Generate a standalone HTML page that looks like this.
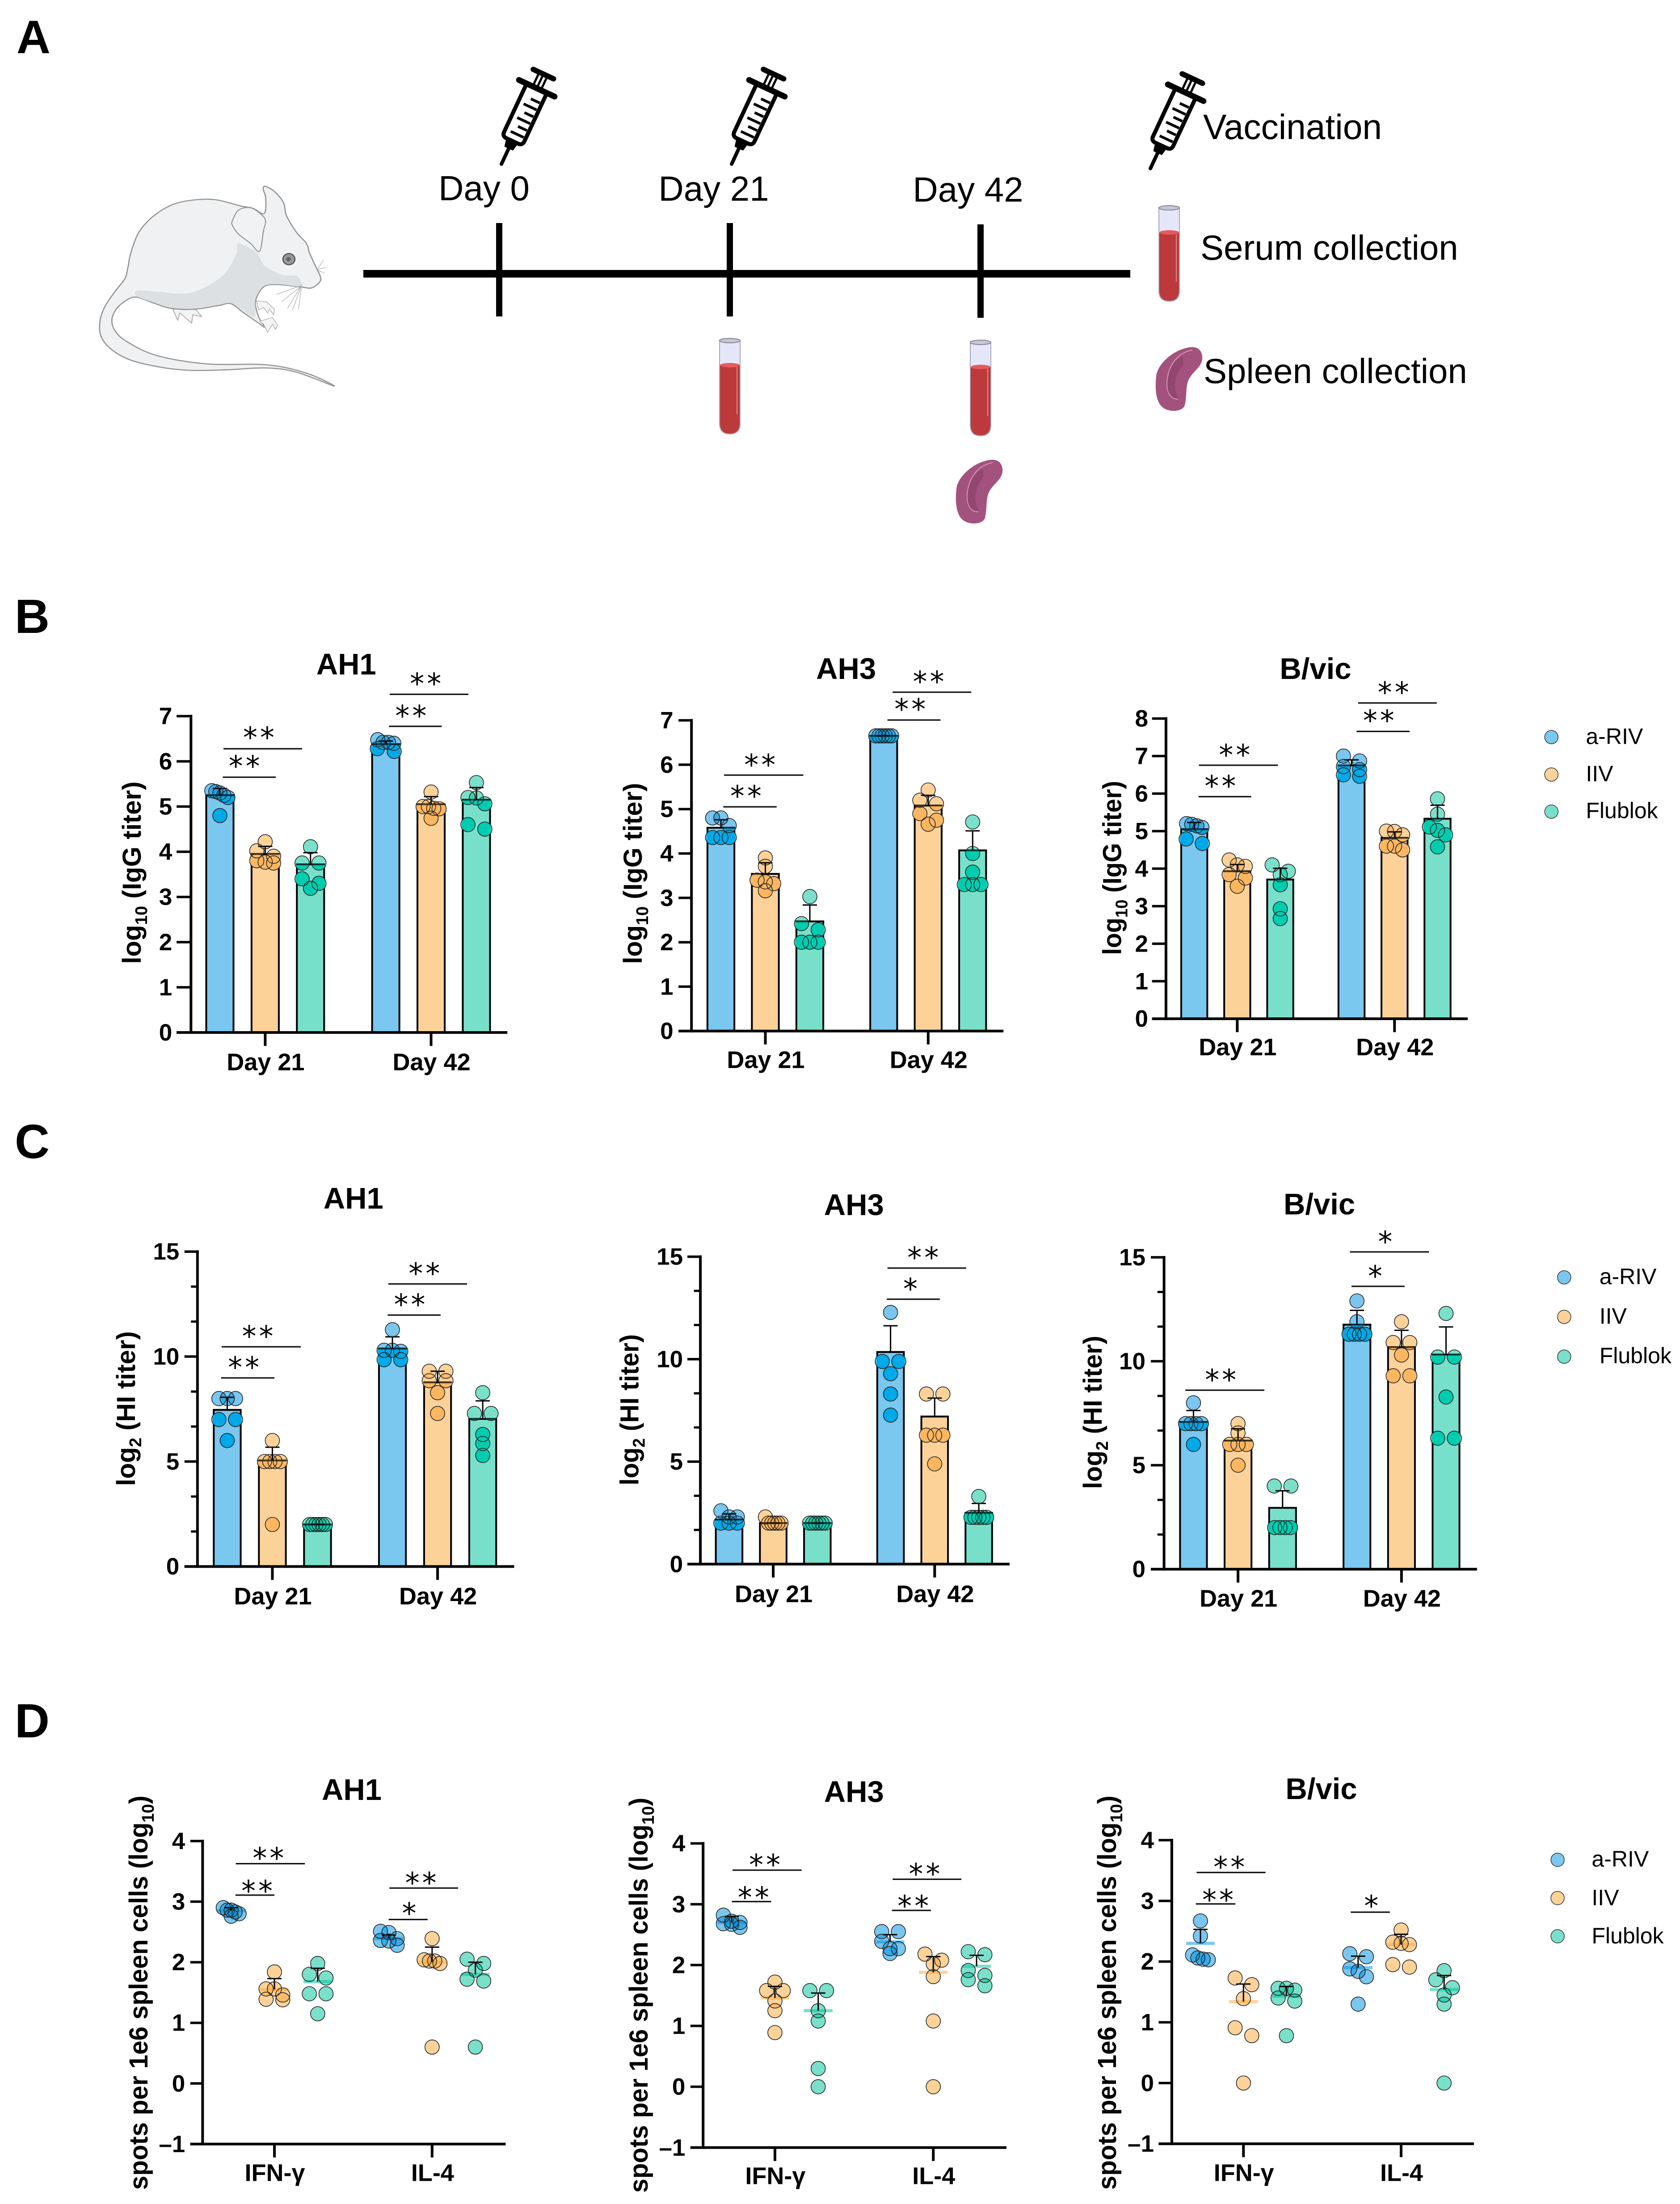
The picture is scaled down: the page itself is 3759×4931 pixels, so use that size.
<!DOCTYPE html>
<html lang="en">
<head>
<meta charset="utf-8">
<title>Vaccination study figure</title>
<style>
html,body{margin:0;padding:0;background:#fff}
svg{display:block}
text{font-family:"Liberation Sans",Arial,sans-serif;fill:#000}
</style>
</head>
<body>
<svg id="figure" xmlns="http://www.w3.org/2000/svg" width="3759" height="4931" viewBox="0 0 3759 4931">
<rect x="0" y="0" width="3759" height="4931" fill="#fff"/>
<defs>
<g id="syringe" fill="none" stroke="#000" stroke-linecap="round" stroke-linejoin="round">
<path d="M-25,-187 V-68 Q-25,-57 -14,-57 H14 Q25,-57 25,-68 V-187" stroke-width="9"/>
<path d="M-12,-55 L-9,-40 H9 L12,-55 Z" fill="#000" stroke-width="4"/>
<path d="M0,-40 V0" stroke-width="8"/>
<path d="M-44,-187 H44" stroke-width="13"/>
<path d="M-25,-222 H25" stroke-width="12"/>
<path d="M-10,-187 V-222 M0,-190 V-222 M10,-187 V-222" stroke-width="5"/>
<path d="M-12,-75 H20 M-2,-92 H20 M-12,-109 H20 M-2,-126 H20 M-12,-143 H20 M-2,-160 H20" stroke-width="6" stroke-linecap="butt"/>
</g>
<g id="tube">
<path d="M-23,4 V190 Q-23,214 0,214 Q23,214 23,190 V4 Z" fill="#e6e6fb" stroke="#a8a8b8" stroke-width="2"/>
<path d="M-22,60 V190 Q-22,213 0,213 Q22,213 22,190 V60 Z" fill="#bc3a3c"/>
<ellipse cx="0" cy="60" rx="22" ry="5" fill="#e85a5c"/>
<ellipse cx="0" cy="5" rx="23" ry="5" fill="#c5c5de" stroke="#888" stroke-width="2"/>
<path d="M16,64 V170" stroke="#e08a8a" stroke-width="2"/>
</g>
<g id="spleen">
<path d="M77.6,1.7 C92.9,0 105.6,8.6 104,28.7 C102,46 85,54.5 75,71.8 C66.3,86 70,112 64.8,132 C59.7,146.4 29,149 13.8,135 C-1.5,120.5 -1.5,89 1,66 C5,37 42,5.7 77.6,1.7Z" fill="#a3527e"/>
<path d="M60,22 C35,35 22,65 24,95 C25,110 40,122 52,118 C40,100 38,68 62,40 Z" fill="#93466f"/>
<path d="M82,8 C50,14 28,40 25,80 C24,100 30,118 50,118" fill="none" stroke="#cf9ab4" stroke-width="2"/>
</g>
</defs>

<text x="37" y="119" font-size="105" font-weight="700">A</text>
<text x="33" y="1416" font-size="108" font-weight="700">B</text>
<text x="33" y="2591" font-size="108" font-weight="700">C</text>
<text x="33" y="3887" font-size="108" font-weight="700">D</text>

<g transform="translate(150,300) scale(0.4464,0.4146)">
<path d="M530,945 L555,1005 L565,965 L625,1020 L630,975 L675,985 L640,940 Z" fill="#f4f4f4" stroke="#a5a5a5" stroke-width="4" stroke-linejoin="round"/>
<path class="smooth" fill="#f0f1f2" stroke="#949494" stroke-width="6" data-pts="1340,1360 1200,1290 1000,1245 700,1240 450,1195 300,1120 240,1060 225,1000 250,940 300,895 350,880 430,910 520,940 640,945 760,925 820,915 880,960 960,1020 990,1040 960,985 945,900 985,825 1050,812 1170,825 1225,830 1265,800 1270,770 1240,700 1215,640 1200,590 1150,530 1100,440 1085,370 1040,310 995,282 983,295 995,340 995,410 980,430 930,400 870,388 750,355 640,355 530,380 430,445 360,530 320,640 305,720 290,780 240,850 190,930 165,1010 170,1090 220,1160 320,1220 480,1260 620,1275 800,1272 1000,1262 1150,1285"/>
<path class="smooth" fill="#dde0e2" data-pts="350,845 450,850 600,860 720,810 800,740 850,640 860,590 950,640 990,710 1080,760 1150,765 1175,800 1170,822 1050,810 985,822 945,880 940,985 880,950 820,912 760,922 640,942 520,937 430,907 350,875"/>
<path class="smooth" fill="#f1f2f3" stroke="#949494" stroke-width="5" data-pts="828,470 860,410 920,398 975,435 995,470 985,520 965,632 920,590 860,540 830,495"/>
<path d="M950,900 L1000,905 L1040,945 L1035,975 L1015,945 L1005,965 L985,935 L960,950 Z" fill="#f4f4f4" stroke="#a5a5a5" stroke-width="3" stroke-linejoin="round"/>
<path d="M965,1010 L1030,990 L1055,1030 L1045,1055 L1030,1025 L1005,1070 L985,1025 Z" fill="#f4f4f4" stroke="#a5a5a5" stroke-width="3" stroke-linejoin="round"/>
<ellipse cx="1112" cy="675" rx="30" ry="30" fill="#9a9a9a" stroke="#555" stroke-width="6"/>
<ellipse cx="1110" cy="675" rx="12" ry="12" fill="#666"/>
<path d="M1180,815 L1050,865 M1175,820 L1075,905 M1170,825 L1105,940 M1172,825 L1130,950 M1175,825 L1160,945 M1255,730 L1285,680 M1258,730 L1300,720 M1258,735 L1290,750" fill="none" stroke="#b0b0b0" stroke-width="3"/>
</g>

<g>
<rect x="813" y="604" width="1716" height="17" fill="#000"/>
<rect x="1110" y="499" width="14" height="209" fill="#000"/>
<rect x="1626" y="499" width="14" height="209" fill="#000"/>
<rect x="2187" y="502" width="14" height="209" fill="#000"/>
<text x="1083" y="448" font-size="78" text-anchor="middle">Day 0</text>
<text x="1597" y="449" font-size="78" text-anchor="middle">Day 21</text>
<text x="2166" y="451" font-size="78" text-anchor="middle">Day 42</text>
<use href="#syringe" transform="translate(1122,367) rotate(25)"/>
<use href="#syringe" transform="translate(1637,367) rotate(25)"/>
<use href="#tube" transform="translate(1633,757)"/>
<use href="#tube" transform="translate(2194,761)"/>
<use href="#spleen" transform="translate(2139,1027)"/>
</g>

<g>
<use href="#syringe" transform="translate(2574,377) rotate(25)"/>
<text x="2692" y="311" font-size="78.5">Vaccination</text>
<use href="#tube" transform="translate(2616,460)"/>
<text x="2686" y="581" font-size="78">Serum collection</text>
<use href="#spleen" transform="translate(2586,775)"/>
<text x="2693" y="857" font-size="78">Spleen collection</text>
</g>
<g id="charts"></g>
</svg>

<script>
// Shared categories and tick labels
const groupNames = ['a-RIV', 'IIV', 'Flublok'];
const dayCategories = ['Day 21', 'Day 42'];
const cytokineCategories = ['IFN-γ', 'IL-4'];
const ticksIgG7 = [0, 1, 2, 3, 4, 5, 6, 7];
const ticksIgG8 = [0, 1, 2, 3, 4, 5, 6, 7, 8];
const ticksHI = [0, 5, 10, 15];
const minorTicksHI = [1.667, 3.333, 6.667, 8.333, 11.667, 13.333];
const ticksSpots = [-1, 0, 1, 2, 3, 4];

// Panel B: IgG titers
const b1Means = [5.25, 3.95, 3.72, 6.38, 5.05, 5.15];
const b1Errors = [5.4, 4.12, 3.98, 6.45, 5.22, 5.42];
const b1Dots = [
  [5.35, 5.33, 5.3, 5.25, 5.2, 4.8],
  [4.22, 4.02, 3.9, 3.8, 3.77, 3.75],
  [4.11, 3.75, 3.75, 3.4, 3.3, 3.19],
  [6.48, 6.42, 6.42, 6.4, 6.28, 6.22],
  [5.32, 5.0, 5.0, 4.96, 4.95, 4.74],
  [5.53, 5.2, 5.19, 5.06, 4.6, 4.5]
];
const b2Means = [4.58, 3.54, 2.47, 6.65, 5.08, 4.07];
const b2Errors = [4.76, 3.79, 2.84, 6.65, 5.31, 4.51];
const b2Dots = [
  [4.8, 4.8, 4.63, 4.36, 4.36, 4.36],
  [3.9, 3.71, 3.4, 3.36, 3.32, 3.16],
  [3.03, 2.42, 2.28, 2, 2, 2],
  [6.65, 6.65, 6.65, 6.65, 6.65, 6.65],
  [5.43, 5.2, 5.12, 4.9, 4.75, 4.66],
  [4.71, 4.0, 3.58, 3.3, 3.3, 3.3]
];
const b3Means = [5.05, 3.93, 3.71, 6.75, 4.82, 5.33];
const b3Errors = [5.23, 4.11, 4.01, 6.9, 4.98, 5.69];
const b3Dots = [
  [5.2, 5.18, 5.14, 5.1, 4.79, 4.67],
  [4.23, 4.1, 4.06, 3.84, 3.75, 3.53],
  [4.1, 3.93, 3.84, 3.57, 2.93, 2.67],
  [7.0, 6.87, 6.72, 6.64, 6.5, 6.46],
  [5.0, 4.99, 4.9, 4.6, 4.6, 4.5],
  [5.86, 5.45, 5.11, 5.02, 4.9, 4.58]
];

// Panel C: HI titers
const c1Means = [7.46, 5.05, 2.0, 10.38, 8.77, 7.03];
const c1Errors = [8.06, 5.68, 2.0, 10.94, 9.3, 7.89];
const c1Dots = [
  [8, 8, 8, 7, 7, 6],
  [6, 5, 5, 5, 5, 2],
  [2, 2, 2, 2, 2, 2],
  [11.28, 10.3, 10.3, 10.25, 9.85, 9.85],
  [9.3, 9.3, 8.85, 8.85, 8.28, 7.29],
  [8.28, 7.29, 7.29, 6.29, 5.86, 5.29]
];
const c2Means = [2.17, 2.0, 2.0, 10.35, 7.2, 2.5];
const c2Errors = [2.45, 2.0, 2.0, 11.63, 8.1, 2.96];
const c2Dots = [
  [2.6, 2.3, 2.3, 2, 2, 2],
  [2.3, 2, 2, 2, 2, 2],
  [2, 2, 2, 2, 2, 2],
  [12.28, 9.89, 9.89, 9.29, 8.3, 7.27],
  [8.3, 8.3, 6.29, 6.29, 6.29, 4.89],
  [3.3, 2.28, 2.28, 2.28, 2.28, 2.28]
];
const c3Means = [7.08, 6.18, 2.95, 11.76, 10.68, 10.32];
const c3Errors = [7.63, 6.75, 3.77, 12.45, 11.49, 11.65];
const c3Dots = [
  [8, 7, 7, 7, 7, 6],
  [7, 6.55, 6, 6, 6, 5],
  [4, 4, 2, 2, 2, 2],
  [12.9, 11.9, 11.3, 11.3, 11.3, 11.3],
  [11.9, 10.9, 10.9, 10.3, 9.3, 9.3],
  [12.3, 10.2, 10.2, 8.28, 6.3, 6.3]
];

// Panel D: ELISpot
const d1Means = [2.85, 1.55, 1.68, 2.39, 2.0, 1.8];
const d1Errors = [2.9, 1.73, 1.9, 2.45, 2.25, 2.0];
const d1Dots = [
  [2.9, 2.86, 2.86, 2.83, 2.8, 2.76],
  [1.84, 1.56, 1.56, 1.46, 1.39, 1.38],
  [1.98, 1.8, 1.74, 1.48, 1.48, 1.15],
  [2.51, 2.49, 2.39, 2.36, 2.35, 2.28],
  [2.39, 2.04, 2.02, 2.02, 1.98, 0.6],
  [2.05, 1.98, 1.87, 1.72, 1.69, 0.6]
];
const d2Means = [2.7, 1.46, 1.25, 2.38, 1.88, 1.98];
const d2Errors = [2.8, 1.65, 1.54, 2.5, 2.14, 2.16];
const d2Dots = [
  [2.82, 2.72, 2.7, 2.68, 2.67, 2.62],
  [1.72, 1.58, 1.58, 1.41, 1.25, 0.89],
  [1.58, 1.58, 1.25, 1.08, 0.3, 0],
  [2.55, 2.55, 2.39, 2.27, 2.27, 2.19],
  [2.18, 2.08, 2.02, 1.81, 1.08, 0],
  [2.22, 2.17, 1.91, 1.83, 1.76, 1.66]
];
const d3Means = [2.3, 1.34, 1.43, 1.9, 2.28, 1.54];
const d3Errors = [2.53, 1.63, 1.59, 2.09, 2.45, 1.77];
const d3Dots = [
  [2.67, 2.42, 2.11, 2.06, 2.04, 2.03],
  [1.73, 1.62, 1.39, 0.91, 0.78, 0],
  [1.56, 1.56, 1.53, 1.4, 1.35, 0.78],
  [2.13, 2.08, 1.88, 1.84, 1.75, 1.3],
  [2.52, 2.32, 2.3, 2.28, 1.95, 1.91],
  [1.85, 1.7, 1.57, 1.45, 1.3, 0]
];

const NS = 'http://www.w3.org/2000/svg';
const root = document.getElementById('charts');
const barFill = ['#7ac7f0', '#fdd299', '#78e0ca'];
const dotOnBar = ['#00a9e8', '#fcb660', '#00cdb0'];
const dotAlpha = ['rgba(0,146,224,.52)', 'rgba(252,169,60,.52)', 'rgba(0,196,154,.52)'];
const DOT_R = 16;

function mk(tag, attrs, parent, text) {
  const el = document.createElementNS(NS, tag);
  for (const k in attrs) el.setAttribute(k, attrs[k]);
  if (text !== undefined) el.textContent = text;
  parent.appendChild(el);
  return el;
}

// Deterministic swarm: nearby values share a row and spread sideways.
function swarm(values, yFn, lane) {
  const order = values.map((v, i) => i).sort((a, b) => values[b] - values[a]);
  const out = new Array(values.length).fill(0);
  let i = 0;
  while (i < order.length) {
    let j = i + 1;
    while (j < order.length && Math.abs(yFn(values[order[j]]) - yFn(values[order[i]])) < 18) j++;
    const n = j - i;
    for (let k = 0; k < n; k++) {
      if (n > 1) out[order[i + k]] = n <= 3 ? (k - (n - 1) / 2) * (n === 2 ? 2 : 1) * lane : (-0.95 + 1.9 * k / (n - 1)) * lane;
    }
    i = j;
  }
  return out;
}

function yLabel(p, g, parts) {
  const bx = p.ox + p.yLabelX / p.zx;
  const y1 = p.oy + p.yLabelTop / p.zy;
  const y2 = p.oy + p.yLabelBottom / p.zy;
  const cy = (y1 + y2) / 2;
  const t = mk('text', { x: 0, y: 0, 'font-size': 58, 'font-weight': 700, 'text-anchor': 'middle' }, g);
  
  
  mk('tspan', {}, t, parts[0]);
  mk('tspan', { dy: 14, 'font-size': 38 }, t, parts[1]);
  mk('tspan', { dy: -14 }, t, parts[2]);
  const len = t.getComputedTextLength() || 1;
  t.setAttribute('transform', 'translate(' + bx + ',' + cy + ') rotate(-90) scale(' + ((y2 - y1) / len) + ',1)');
}

function sig(p, x1, x2, y, sx, sy, label) {
  const g = p.group;
  const l = mk('rect', { x: p.ox + x1 / p.zx, y: p.oy + y / p.zy - 1.6, width: (x2 - x1) / p.zx, height: 3.2, fill: '#111' }, g);
  
  
  const fs = 64;
  const t = mk('text', { x: p.ox + sx / p.zx + 3, y: p.oy + sy / p.zy + 0.515 * fs, 'font-size': fs, 'text-anchor': 'middle', 'letter-spacing': 6, style: 'font-family:"DejaVu Sans",sans-serif' }, g, label);
  
  
}

function legend(p, dotX, dotYs, textX, baselines) {
  const g = mk('g', {}, root);
  
  
  groupNames.forEach(function (name, i) {
    const c = mk('circle', { cx: p.ox + dotX / p.zx, cy: p.oy + dotYs[i] / p.zy, r: 15, fill: barFill[i], stroke: '#333', 'stroke-width': 1.5 }, g);
    
    
    const t = mk('text', { x: p.ox + textX / p.zx, y: p.oy + baselines[i] / p.zy, 'font-size': 50 }, g, name);
    
    
  });
}

function drawPanel(p) {
  const X = function (z) { return p.ox + z / p.zx; };
  const Y = function (z) { return p.oy + z / p.zy; };
  const y0 = Y(p.bottom), yT = Y(p.top);
  const yS = function (v) { return y0 - (v - p.yMin) / (p.yMax - p.yMin) * (y0 - yT); };
  const g = mk('g', {}, root);
  
  
  p.group = g;
  const defs = mk('defs', {}, g);

  const title = mk('text', { x: X(p.titleX), y: Y(p.titleY), 'font-size': 67, 'font-weight': 700, 'text-anchor': 'middle' }, g, p.title);
  
  
  yLabel(p, g, p.yLabel);

  const barW = p.barW / p.zx;
  const step = p.step / p.zx;
  const lane = barW * 0.29;
  const dotGroups = [];

  p.means.forEach(function (mean, idx) {
    const gi = Math.floor(idx / 3);
    const ji = idx % 3;
    const cx = X(p.groupsX[gi]) + (ji - 1) * step;
    const yM = yS(mean);
    const vals = p.dots[idx];
    const off = swarm(vals, yS, lane);
    const series = groupNames[ji].toLowerCase() + '-' + p.categories[gi].toLowerCase().replace(/[^a-z0-9]+/g, '-');
    let clipId = null;
    if (p.style === 'bar') {
      const rect = mk('rect', { x: cx - barW / 2 + 2, y: yM, width: barW - 4, height: y0 - yM, fill: barFill[ji], stroke: '#000', 'stroke-width': 4 }, g);
      
      
      clipId = 'clip-' + p.id + '-' + idx;
      const cp = mk('clipPath', { id: clipId }, defs);
      mk('rect', { x: cx - barW / 2, y: yM, width: barW, height: y0 - yM }, cp);
    } else {
      const ml = mk('rect', { x: cx - barW / 2, y: yM - 3.5, width: barW, height: 7, fill: barFill[ji] }, g);
      
      
    }
    dotGroups.push({ idx: idx, ji: ji, cx: cx, yM: yM, vals: vals, off: off, series: series, clipId: clipId });
  });

  // dot fills
  dotGroups.forEach(function (d) {
    d.vals.forEach(function (v, i) {
      const c = mk('circle', { cx: d.cx + d.off[i], cy: yS(v), r: DOT_R, fill: dotAlpha[d.ji] }, g);
      
      
      if (d.clipId) {
        const c2 = mk('circle', { cx: d.cx + d.off[i], cy: yS(v), r: DOT_R, fill: dotOnBar[d.ji], 'clip-path': 'url(#' + d.clipId + ')' }, g);
        
        
      }
    });
  });

  // bar tops + error bars, then outlines
  dotGroups.forEach(function (d) {
    const w = barW;
    if (p.style === 'bar') {
      const tl = mk('rect', { x: d.cx - w / 2, y: d.yM - 2, width: w, height: 4, fill: '#000', opacity: 0.65 }, g);
      
      
    }
    const err = p.errors[d.idx];
    const yE = yS(err);
    const st = mk('line', { x1: d.cx, x2: d.cx, y1: d.yM, y2: yE, stroke: '#000', 'stroke-width': 3 }, g);
    
    
    const cap = mk('line', { x1: d.cx - 16, x2: d.cx + 16, y1: yE, y2: yE, stroke: '#000', 'stroke-width': 3 }, g);
    
    
    d.vals.forEach(function (v, i) {
      const c = mk('circle', { cx: d.cx + d.off[i], cy: yS(v), r: DOT_R, fill: 'none', stroke: '#222', 'stroke-width': 1.6 }, g);
      
      
    });
  });

  // axes
  const ya = mk('line', { x1: X(p.axisX), x2: X(p.axisX), y1: yT - 3, y2: y0 + 3, stroke: '#000', 'stroke-width': 6 }, g);
  
  
  const xa = mk('line', { x1: X(p.tickLeft), x2: X(p.right), y1: y0, y2: y0, stroke: '#000', 'stroke-width': 6 }, g);
  
  
  p.ticks.forEach(function (v) {
    const ty = yS(v);
    const tk = mk('line', { x1: X(p.tickLeft), x2: X(p.axisX), y1: ty, y2: ty, stroke: '#000', 'stroke-width': 5.5 }, g);
    
    
    const lb = mk('text', { x: X(p.tickRight), y: ty + 18, 'font-size': 53, 'font-weight': 700, 'text-anchor': 'end' }, g, v < 0 ? '–' + Math.abs(v) : String(v));
    
    
  });
  (p.minor || []).forEach(function (v) {
    const ty = yS(v);
    const tk = mk('line', { x1: (X(p.tickLeft) + X(p.axisX)) / 2, x2: X(p.axisX), y1: ty, y2: ty, stroke: '#000', 'stroke-width': 5 }, g);
    
    
  });
  p.categories.forEach(function (name, i) {
    const tx = X(p.groupsX[i]);
    const tk = mk('line', { x1: tx, x2: tx, y1: y0, y2: y0 + 30, stroke: '#000', 'stroke-width': 6 }, g);
    
    
    const lb = mk('text', { x: tx + 1, y: Y(p.xLabelY), 'font-size': 54, 'font-weight': 700, 'text-anchor': 'middle' }, g, name);
    
    
  });
}

const zy10 = 1568 / 1050, zyD = 1568 / 1031, zxA = 1568 / 1200, zxB = 1568 / 1359;
const iggLabel = ['log', '10', ' (IgG titer)'];
const hiLabel = ['log', '2', ' (HI titer)'];
const spotLabel = ['spots per 1e6 spleen cells (log', '10', ')'];

const b1 = { id: 'b-ah1', style: 'bar', ox: 200, oy: 1400, zx: zxA, zy: zy10, axisX: 297, right: 1222, tickLeft: 255, top: 302, bottom: 1359, yMin: 0, yMax: 7, ticks: ticksIgG7, groupsX: [514, 999], step: 132.5, barW: 85, title: 'AH1', titleX: 751, titleY: 163, yLabel: iggLabel, yLabelX: 150, yLabelTop: 520, yLabelBottom: 1130, xLabelY: 1485, tickRight: 242, categories: dayCategories, means: b1Means, errors: b1Errors, dots: b1Dots };
const b2 = { id: 'b-ah3', style: 'bar', ox: 1300, oy: 1400, zx: zxA, zy: zy10, axisX: 323, right: 1235, tickLeft: 285, top: 316, bottom: 1354, yMin: 0, yMax: 7, ticks: ticksIgG7, groupsX: [539, 1015], step: 130, barW: 84, title: 'AH3', titleX: 775, titleY: 178, yLabel: iggLabel, yLabelX: 178, yLabelTop: 525, yLabelBottom: 1130, xLabelY: 1478, tickRight: 270, categories: dayCategories, means: b2Means, errors: b2Errors, dots: b2Dots };
const b3 = { id: 'b-bvic', style: 'bar', ox: 2400, oy: 1400, zx: zxB, zy: zy10, axisX: 241, right: 1020, tickLeft: 205, top: 310, bottom: 1313, yMin: 0, yMax: 8, ticks: ticksIgG8, groupsX: [425, 831], step: 111, barW: 72, title: 'B/vic', titleX: 627, titleY: 178, yLabel: iggLabel, yLabelX: 125, yLabelTop: 518, yLabelBottom: 1100, xLabelY: 1435, tickRight: 195, categories: dayCategories, means: b3Means, errors: b3Errors, dots: b3Dots };
const c1 = { id: 'c-ah1', style: 'bar', ox: 200, oy: 2600, zx: zxA, zy: zy10, axisX: 316, right: 1242, tickLeft: 278, top: 299, bottom: 1351, yMin: 0, yMax: 15, ticks: ticksHI, minor: minorTicksHI, groupsX: [535, 1018], step: 132, barW: 84, title: 'AH1', titleX: 772, titleY: 155, yLabel: hiLabel, yLabelX: 133, yLabelTop: 565, yLabelBottom: 1082, xLabelY: 1478, tickRight: 263, categories: dayCategories, means: c1Means, errors: c1Errors, dots: c1Dots };
const c2 = { id: 'c-ah3', style: 'bar', ox: 1300, oy: 2600, zx: zxA, zy: zy10, axisX: 349, right: 1253, tickLeft: 311, top: 316, bottom: 1343, yMin: 0, yMax: 15, ticks: ticksHI, minor: minorTicksHI, groupsX: [562, 1034], step: 129, barW: 83, title: 'AH3', titleX: 798, titleY: 177, yLabel: hiLabel, yLabelX: 168, yLabelTop: 575, yLabelBottom: 1080, xLabelY: 1470, tickRight: 298, categories: dayCategories, means: c2Means, errors: c2Errors, dots: c2Dots };
const c3 = { id: 'c-bvic', style: 'bar', ox: 2400, oy: 2600, zx: zxB, zy: zy10, axisX: 236, right: 1044, tickLeft: 202, top: 318, bottom: 1360, yMin: 0, yMax: 15, ticks: ticksHI, minor: minorTicksHI, groupsX: [427, 849], step: 115, barW: 74, title: 'B/vic', titleX: 637, titleY: 175, yLabel: hiLabel, yLabelX: 75, yLabelTop: 580, yLabelBottom: 1092, xLabelY: 1485, tickRight: 188, categories: dayCategories, means: c3Means, errors: c3Errors, dots: c3Dots };
const d1 = { id: 'd-ah1', style: 'scatter', ox: 200, oy: 3900, zx: zxA, zy: zyD, axisX: 331, right: 1217, tickLeft: 295, top: 333, bottom: 1364, yMin: -1, yMax: 4, ticks: ticksSpots, groupsX: [541, 1002], step: 126.5, barW: 84, title: 'AH1', titleX: 767, titleY: 193, yLabel: spotLabel, yLabelX: 170, yLabelTop: 178, yLabelBottom: 1520, xLabelY: 1490, tickRight: 280, categories: cytokineCategories, means: d1Means, errors: d1Errors, dots: d1Dots };
const d2 = { id: 'd-ah3', style: 'scatter', ox: 1300, oy: 3900, zx: zxA, zy: zyD, axisX: 357, right: 1244, tickLeft: 320, top: 341, bottom: 1376, yMin: -1, yMax: 4, ticks: ticksSpots, groupsX: [567, 1030], step: 126.5, barW: 84, title: 'AH3', titleX: 798, titleY: 200, yLabel: spotLabel, yLabelX: 195, yLabelTop: 185, yLabelBottom: 1530, xLabelY: 1500, tickRight: 305, categories: cytokineCategories, means: d2Means, errors: d2Errors, dots: d2Dots };
const d3 = { id: 'd-bvic', style: 'scatter', ox: 2400, oy: 3900, zx: zxB, zy: zyD, axisX: 256, right: 1036, tickLeft: 222, top: 330, bottom: 1363, yMin: -1, yMax: 4, ticks: ticksSpots, groupsX: [441, 848], step: 111, barW: 74, title: 'B/vic', titleX: 642, titleY: 190, yLabel: spotLabel, yLabelX: 112, yLabelTop: 178, yLabelBottom: 1520, xLabelY: 1490, tickRight: 210, categories: cytokineCategories, means: d3Means, errors: d3Errors, dots: d3Dots };

drawPanel(b1); drawPanel(b2); drawPanel(b3);
drawPanel(c1); drawPanel(c2); drawPanel(c3);
drawPanel(d1); drawPanel(d2); drawPanel(d3);

sig(b1, 390, 545, 506, 453, 453, '**');
sig(b1, 392, 622, 411, 495, 358, '**');
sig(b1, 876, 1030, 336, 940, 285, '**');
sig(b1, 878, 1108, 229, 983, 178, '**');
sig(b2, 416, 572, 605, 482, 553, '**');
sig(b2, 418, 650, 499, 523, 449, '**');
sig(b2, 896, 1051, 315, 962, 263, '**');
sig(b2, 911, 1141, 222, 1016, 171, '**');
sig(b3, 325, 461, 571, 381, 520, '**');
sig(b3, 326, 530, 466, 418, 416, '**');
sig(b3, 733, 870, 353, 790, 301, '**');
sig(b3, 737, 940, 258, 828, 207, '**');
sig(c1, 385, 541, 721, 451, 670, '**');
sig(c1, 387, 618, 617, 492, 566, '**');
sig(c1, 872, 1027, 511, 936, 460, '**');
sig(c1, 874, 1104, 407, 979, 356, '**');
sig(c2, 894, 1049, 458, 963, 408, '*');
sig(c2, 896, 1126, 354, 1000, 303, '**');
sig(c3, 291, 495, 762, 382, 712, '**');
sig(c3, 720, 857, 415, 781, 365, '*');
sig(c3, 716, 920, 300, 807, 250, '*');
sig(d1, 427, 541, 517, 490, 487, '**');
sig(d1, 428, 630, 410, 523, 375, '**');
sig(d1, 875, 989, 600, 935, 563, '*');
sig(d1, 877, 1078, 493, 969, 459, '**');
sig(d2, 441, 556, 539, 504, 509, '**');
sig(d2, 443, 645, 432, 537, 398, '**');
sig(d2, 909, 1023, 569, 971, 538, '**');
sig(d2, 911, 1112, 463, 1004, 429, '**');
sig(d3, 318, 420, 547, 375, 517, '**');
sig(d3, 320, 498, 440, 404, 405, '**');
sig(d3, 718, 819, 575, 771, 538, '*');

legend(b3, 1236, [372, 497, 621], 1325, [395, 520, 643]);
legend(c3, 1269, [385, 517, 650], 1360, [408, 540, 672]);
legend(d3, 1252, [397, 527, 657], 1340, [420, 551, 681]);

// Smooth the hand-traced illustration outlines
document.querySelectorAll('path.smooth').forEach(function (el) {
  const pts = el.getAttribute('data-pts').split(' ').map(function (s) { return s.split(',').map(Number); });
  const n = pts.length;
  let d = 'M' + pts[0][0] + ',' + pts[0][1];
  for (let i = 0; i < n; i++) {
    const p0 = pts[(i - 1 + n) % n], p1 = pts[i], p2 = pts[(i + 1) % n], p3 = pts[(i + 2) % n];
    d += ' C' + (p1[0] + (p2[0] - p0[0]) / 6) + ',' + (p1[1] + (p2[1] - p0[1]) / 6) + ' ' + (p2[0] - (p3[0] - p1[0]) / 6) + ',' + (p2[1] - (p3[1] - p1[1]) / 6) + ' ' + p2[0] + ',' + p2[1];
  }
  el.setAttribute('d', d + 'Z');
  el.removeAttribute('data-pts');
});
</script>
</body>
</html>
